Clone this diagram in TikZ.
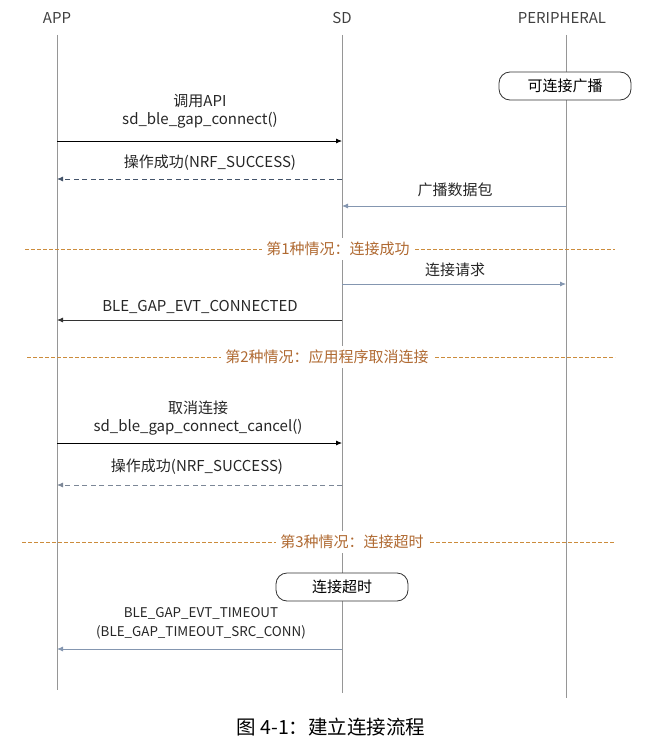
\documentclass[tikz,border=0pt]{standalone}
\usepackage{fontspec}
\setmainfont{Noto Sans CJK SC}
\usepackage{tikz}
\usetikzlibrary{arrows.meta, positioning, calc}
\definecolor{lifegray}{RGB}{150,150,150}
\definecolor{darkslate}{RGB}{68,84,106}
\definecolor{lightslate}{RGB}{132,150,176}
\definecolor{caseorange}{RGB}{204,140,60}
\definecolor{casetext}{RGB}{176,106,50}

\begin{document}
\begin{tikzpicture}[
        x=1pt, y=-1pt,
        font=\fontsize{15}{18}\selectfont,
        head/.style={text=black!75, inner sep=2pt},
        life/.style={lifegray, line width=0.9pt},
        msg/.style={-{Latex[length=6pt,width=5pt]}, line width=0.8pt},
        reply/.style={msg, darkslate, dashed, dash pattern=on 5pt off 3.5pt},
        evt/.style={msg, lightslate},
        lbl/.style={inner sep=1pt, align=center, text=black!85},
        state/.style={draw=black!80, fill=white, rounded corners=11pt, line width=0.8pt,
                      minimum width=132pt, minimum height=28pt, inner sep=2pt},
        sep/.style={caseorange, dashed, dash pattern=on 4pt off 2pt, line width=1pt},
        caselbl/.style={fill=white, text=casetext, inner sep=4pt}
      ]
        \useasboundingbox (0,0) rectangle (664,752);
        % lifelines
        \node[head] (app) at (57,18) {APP};
        \node[head] (sd) at (342,18) {SD};
        \node[head] (per) at (562,18) {PERIPHERAL};
        \coordinate (append) at (57,690);
        \coordinate (sdend) at (342,693);
        \coordinate (perend) at (566,698);
        \draw[life] (append |- 0,35) -- (append);
        \draw[life] (sd |- 0,35) -- (sdend);
        \draw[life] (perend |- 0,35) -- (perend);

        \node[state] (adv) at (565,86) {可连接广播};

        \node[lbl] (call) at (200,111) {调用API\\sd\_ble\_gap\_connect()};
        \draw[msg] (append |- 0,141) -- (sd |- 0,141);
        \node[lbl] (ok1) at (210,163) {操作成功(NRF\_SUCCESS)};
        \draw[reply] (sd |- 0,179) -- (append |- 0,179);
        \node[lbl] (pkt) at (455,190) {广播数据包};
        \draw[evt] (perend |- 0,206) -- (sd |- 0,206);

        % case 1
        \coordinate (c1l) at (25,249.5);
        \coordinate (c1r) at (615,249.5);
        \draw[sep] (c1l) -- (c1r);
        \node[caselbl] (case1) at (338,249) {第1种情况：连接成功};
        \node[lbl] (req) at (455,270) {连接请求};
        \draw[evt] (sd |- 0,284) -- (perend |- 0,284);
        \node[lbl] (conn) at (200,307) {BLE\_GAP\_EVT\_CONNECTED};
        \draw[msg, black!80] (sd |- 0,320) -- (append |- 0,320);

        % case 2
        \coordinate (c2l) at (27,357.5);
        \coordinate (c2r) at (615,357.5);
        \draw[sep] (c2l) -- (c2r);
        \node[caselbl] (case2) at (327,357) {第2种情况：应用程序取消连接};
        \node[lbl] (cancel) at (198,418) {取消连接\\sd\_ble\_gap\_connect\_cancel()};
        \draw[msg] (append |- 0,443) -- (sd |- 0,443);
        \node[lbl] (ok2) at (197,467) {操作成功(NRF\_SUCCESS)};
        \draw[reply, darkslate!70] (sd |- 0,485) -- (append |- 0,485);

        % case 3
        \coordinate (c3l) at (22,542.5);
        \coordinate (c3r) at (615,542.5);
        \draw[sep] (c3l) -- (c3r);
        \node[caselbl] (case3) at (352,542) {第3种情况：连接超时};
        \node[state] (tmo) at (342,587) {连接超时};
        \node[lbl, font=\fontsize{13.4}{19}\selectfont] (tevt) at (201,623)
          {BLE\_GAP\_EVT\_TIMEOUT\\(BLE\_GAP\_TIMEOUT\_SRC\_CONN)};
        \draw[evt] (sd |- 0,649) -- (append |- 0,649);

        \node (cap) at (331,727) {\fontsize{19.5}{22}\selectfont 图 4-1：建立连接流程};
      \end{tikzpicture}
\end{document}
